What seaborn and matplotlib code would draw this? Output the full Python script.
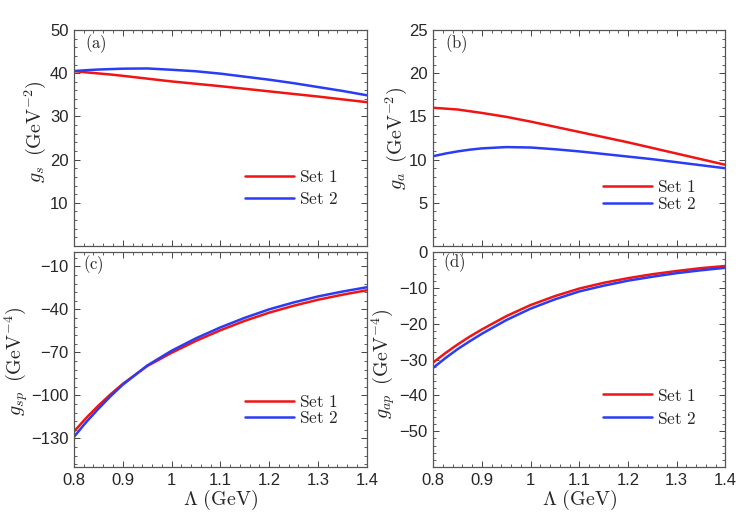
import matplotlib
matplotlib.use("Agg")
import matplotlib.pyplot as plt
from matplotlib.ticker import AutoMinorLocator, FixedLocator
import numpy as np
import pandas as pd
import seaborn as sns

# Cutoff values (GeV)
lam = [0.8, 0.825, 0.85, 0.875, 0.9, 0.95, 1.0, 1.05, 1.1, 1.15, 1.2, 1.25, 1.3, 1.35, 1.4]

gs_set1 = [40.5, 40.2, 39.95, 39.7, 39.4, 38.75, 38.1, 37.55, 37.0, 36.4, 35.8, 35.2, 34.6, 33.95, 33.3]
gs_set2 = [40.5, 40.7, 40.85, 40.95, 41.05, 41.1, 40.8, 40.45, 39.9, 39.2, 38.5, 37.7, 36.8, 35.9, 34.9]

ga_set1 = [16.0, 15.9, 15.8, 15.6, 15.4, 14.95, 14.4, 13.8, 13.2, 12.6, 12.0, 11.35, 10.7, 10.05, 9.4]
ga_set2 = [10.4, 10.7, 10.95, 11.15, 11.3, 11.45, 11.4, 11.2, 10.95, 10.65, 10.35, 10.05, 9.7, 9.35, 9.0]

gsp_set1 = [-125.3, -115.8, -107.2, -99.3, -92.0, -79.6, -70.3, -62.0, -54.6, -48.0, -42.3, -37.5, -33.3, -29.8, -26.7]
gsp_set2 = [-129.0, -118.7, -109.4, -100.6, -92.6, -79.2, -68.9, -60.2, -52.6, -45.9, -40.0, -35.2, -31.0, -27.6, -24.6]

gap_set1 = [-30.8, -28.2, -25.8, -23.6, -21.6, -17.9, -14.8, -12.3, -10.2, -8.6, -7.3, -6.2, -5.3, -4.5, -3.9]
gap_set2 = [-32.3, -29.6, -27.1, -24.9, -22.8, -19.0, -15.8, -13.2, -11.0, -9.4, -8.0, -6.9, -5.9, -5.1, -4.4]

set_names = ["Set 1", "Set 2"]
panel_tags = ["(a)", "(b)", "(c)", "(d)"]


def long_frame(y1, y2):
    return pd.DataFrame({
        "lam": lam + lam,
        "val": y1 + y2,
        "set": [set_names[0]] * len(lam) + [set_names[1]] * len(lam),
    })


sns.set_style("ticks")
plt.rcParams["font.family"] = ["Liberation Sans", "DejaVu Sans"]
plt.rcParams["mathtext.fontset"] = "cm"

fig = plt.figure(figsize=(7.47, 5.14), dpi=100)

# panel boxes in figure fractions
boxes = [
    [0.099, 0.5214, 0.392, 0.4202],
    [0.580, 0.5214, 0.391, 0.4202],
    [0.099, 0.0914, 0.392, 0.4183],
    [0.580, 0.0914, 0.391, 0.4183],
]

panels = [
    dict(df=long_frame(gs_set1, gs_set2), ylim=(0, 50), yticks=[10, 20, 30, 40, 50],
         ylabel=r"$g_s\;\;(\mathrm{GeV}^{-2})$", lab=(-0.088, 0.53),
         leg=(0.584, 0.267), sp=0.35, tag=(0.037, 0.935)),
    dict(df=long_frame(ga_set1, ga_set2), ylim=(0, 25), yticks=[5, 10, 15, 20, 25],
         ylabel=r"$g_a\;\;(\mathrm{GeV}^{-2})$", lab=(-0.084, 0.5),
         leg=(0.582, 0.234), sp=0.1, tag=(0.041, 0.935)),
    dict(df=long_frame(gsp_set1, gsp_set2), ylim=(-150, 0), yticks=[-130, -100, -70, -40, -10],
         ylabel=r"$g_{sp}\;\;(\mathrm{GeV}^{-4})$", lab=(-0.148, 0.493),
         leg=(0.585, 0.263), sp=0.0, tag=(0.031, 0.94)),
    dict(df=long_frame(gap_set1, gap_set2), ylim=(-60, 0), yticks=[-50, -40, -30, -20, -10, 0],
         ylabel=r"$g_{ap}\;\;(\mathrm{GeV}^{-4})$", lab=(-0.12, 0.48),
         leg=(0.582, 0.279), sp=0.4, tag=(0.034, 0.949)),
]

palette = {"Set 1": "#f01414", "Set 2": "#2a3cf5"}

for i, (box, p) in enumerate(zip(boxes, panels)):
    ax = fig.add_axes(box)
    sns.lineplot(data=p["df"], x="lam", y="val", hue="set", palette=palette,
                 linewidth=1.8, ax=ax, legend=False)
    ax.set_xlim(0.8, 1.4)
    ax.set_ylim(*p["ylim"])
    ax.yaxis.set_major_locator(FixedLocator(p["yticks"]))
    ax.yaxis.set_minor_locator(AutoMinorLocator(5))
    ax.set_xticks([0.8, 0.9, 1.0, 1.1, 1.2, 1.3, 1.4])
    ax.xaxis.set_minor_locator(AutoMinorLocator(5))
    ax.tick_params(which="both", direction="in", top=True, right=True,
                   color="#444444", labelsize=12, pad=4)
    ax.tick_params(which="major", length=4, width=0.7)
    ax.tick_params(which="minor", length=2, width=0.6)
    for s in ax.spines.values():
        s.set_color("#555555")
        s.set_linewidth(0.9)
    ax.set_ylabel(p["ylabel"], fontsize=14.4)
    ax.yaxis.set_label_coords(*p["lab"])
    if i >= 2:
        ax.set_xticklabels(["0.8", "0.9", "1", "1.1", "1.2", "1.3", "1.4"])
        ax.set_xlabel(r"$\Lambda\ (\mathrm{GeV})$", fontsize=14.4, labelpad=0)
    else:
        ax.set_xticklabels([])
        ax.set_xlabel("")
    ax.text(p["tag"][0], p["tag"][1], r"$\mathrm{" + panel_tags[i] + "}$",
            transform=ax.transAxes, fontsize=12, ha="left", va="center")
    handles = ax.get_lines()[:2]
    ax.legend(handles, [r"$\mathrm{Set\ 1}$", r"$\mathrm{Set\ 2}$"],
              loc="center left", bbox_to_anchor=p["leg"], frameon=False,
              fontsize=12.5, handlelength=2.8, handletextpad=0.3,
              borderpad=0, borderaxespad=0, labelspacing=p["sp"])

fig.savefig("out.png", dpi=100)
